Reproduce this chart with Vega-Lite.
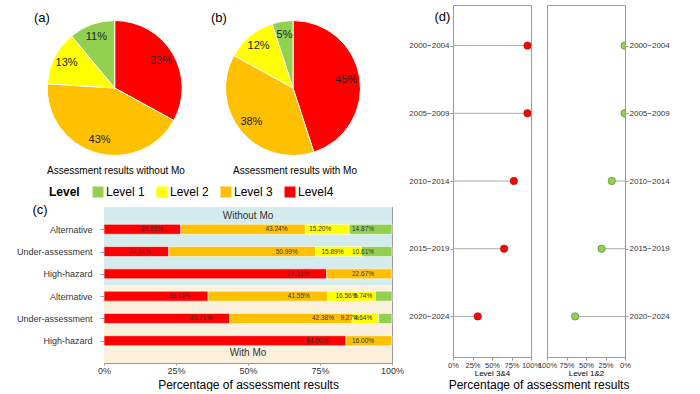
{
  "$schema": "https://vega.github.io/schema/vega-lite/v6.json",
  "padding": {"left": 15, "top": 4, "right": 0, "bottom": 0},
  "config": {
    "font": "Liberation Sans",
    "view": {"stroke": null},
    "axis": {"labelColor": "#333", "titleColor": "#000", "titleFontWeight": "normal", "domainColor": "#999", "tickColor": "#999", "grid": false},
    "title": {"fontWeight": "normal", "color": "#000"}
  },
  "spacing": 3,
  "hconcat": [
    {
      "spacing": 26,
      "vconcat": [
        {
          "spacing": 26,
          "hconcat": [
            {
              "title": {"text": "Assessment results without Mo", "orient": "bottom", "anchor": "middle", "frame": "group", "fontSize": 10, "offset": -5, "dx": 12},
              "vconcat": [
                {
                  "title": {"text": "(a)", "anchor": "start", "frame": "group", "fontSize": 13, "offset": -20, "dx": -70},
                  "width": 21.4, "height": 166,
                  "data": {"values": [
                    {"level": "Level4", "pct": 0.33},
                    {"level": "Level 3", "pct": 0.43},
                    {"level": "Level 2", "pct": 0.13},
                    {"level": "Level 1", "pct": 0.11}
                  ]},
                  "encoding": {
                    "theta": {"field": "pct", "type": "quantitative", "stack": true},
                    "order": {"field": "level", "sort": "descending"}
                  },
                  "layer": [
                    {"mark": {"type": "arc", "outerRadius": 67.5, "stroke": "white", "strokeWidth": 1},
                     "encoding": {"color": {"field": "level", "type": "nominal", "title": "Level", "scale": {"domain": ["Level 1", "Level 2", "Level 3", "Level4"], "range": ["#92D050", "#FFFF00", "#FFC000", "#FF0000"]},
                       "legend": {"orient": "none", "legendX": -55, "legendY": 181, "direction": "horizontal", "titleOrient": "left", "titleFontSize": 12, "titleFontWeight": "bold", "titleColor": "#000", "labelFontSize": 12, "labelColor": "#000", "symbolType": "square", "symbolSize": 121, "symbolStrokeWidth": 0, "symbolOpacity": 1, "columnPadding": 11, "titlePadding": 12, "labelOffset": 2, "padding": 0}}}},
                    {"mark": {"type": "text", "radius": 54, "fontSize": 11, "color": "#222"},
                     "encoding": {"detail": {"field": "level", "type": "nominal"}, "text": {"field": "pct", "type": "quantitative", "format": ".0%"}}}
                  ]
                }
              ]
            },
            {
              "title": {"text": "Assessment results with Mo", "orient": "bottom", "anchor": "middle", "frame": "group", "fontSize": 10, "offset": -5, "dx": 84},
              "vconcat": [
                {
                  "title": {"text": "(b)", "anchor": "start", "frame": "group", "fontSize": 13, "offset": -20, "dx": 0},
                  "width": 164, "height": 166,
                  "data": {"values": [
                    {"level": "Level4", "pct": 0.45},
                    {"level": "Level 3", "pct": 0.38},
                    {"level": "Level 2", "pct": 0.12},
                    {"level": "Level 1", "pct": 0.05}
                  ]},
                  "encoding": {
                    "theta": {"field": "pct", "type": "quantitative", "stack": true},
                    "order": {"field": "level", "sort": "descending"}
                  },
                  "layer": [
                    {"mark": {"type": "arc", "outerRadius": 67.5, "stroke": "white", "strokeWidth": 1},
                     "encoding": {"color": {"field": "level", "type": "nominal", "title": "Level", "scale": {"domain": ["Level 1", "Level 2", "Level 3", "Level4"], "range": ["#92D050", "#FFFF00", "#FFC000", "#FF0000"]},
                       "legend": {"orient": "none", "legendX": -55, "legendY": 181, "direction": "horizontal", "titleOrient": "left", "titleFontSize": 12, "titleFontWeight": "bold", "titleColor": "#000", "labelFontSize": 12, "labelColor": "#000", "symbolType": "square", "symbolSize": 121, "symbolStrokeWidth": 0, "symbolOpacity": 1, "columnPadding": 11, "titlePadding": 12, "labelOffset": 2, "padding": 0}}}},
                    {"mark": {"type": "text", "radius": 54, "fontSize": 11, "color": "#222"},
                     "encoding": {"detail": {"field": "level", "type": "nominal"}, "text": {"field": "pct", "type": "quantitative", "format": ".0%"}}}
                  ]
                }
              ]
            }
          ]
        },
        {
          "width": 288, "height": 156,
          "view": {"stroke": "#999"},
          "encoding": {
            "y": {"field": "row", "type": "nominal",
                  "scale": {"type": "point", "padding": 1, "domain": ["Without Mo|Alternative", "Without Mo|Under-assessment", "Without Mo|High-hazard", "With Mo|Alternative", "With Mo|Under-assessment", "With Mo|High-hazard"]},
                  "axis": {"title": "(c)", "labelExpr": "split(datum.label, '|')[1]", "labelFontSize": 9, "tickSize": 4, "labelPadding": 8, "domain": false, "titleAngle": 0, "titleFontSize": 13, "titleX": -72, "titleY": -4, "titleAlign": "left", "titleBaseline": "top"}}
          },
          "layer": [
            {
              "data": {"values": [{"row": "Without Mo|Alternative", "row2": "Without Mo|High-hazard"}]},
              "mark": {"type": "rect", "color": "#d5ecef", "yOffset": -22.3, "y2Offset": 11.15},
              "encoding": {
                "x": {"datum": 0, "type": "quantitative", "scale": {"domain": [0, 1]}, "axis": {"format": "%", "values": [0, 0.25, 0.5, 0.75, 1], "title": "Percentage of assessment results", "titleFontSize": 12, "labelFontSize": 9, "tickSize": 2, "labelPadding": 1, "domain": false, "labelFlush": false, "titlePadding": 4}},
                "x2": {"datum": 1},
                "y2": {"field": "row2"}
              }
            },
            {
              "data": {"values": [{"row": "With Mo|Alternative", "row2": "With Mo|High-hazard"}]},
              "mark": {"type": "rect", "color": "#fbf0dc", "yOffset": -11.15, "y2Offset": 22.3},
              "encoding": {
                "x": {"datum": 0, "type": "quantitative", "scale": {"domain": [0, 1]}, "axis": {"format": "%", "values": [0, 0.25, 0.5, 0.75, 1], "title": "Percentage of assessment results", "titleFontSize": 12, "labelFontSize": 9, "tickSize": 2, "labelPadding": 1, "domain": false, "labelFlush": false, "titlePadding": 4}},
                "x2": {"datum": 1},
                "y2": {"field": "row2"}
              }
            },
            {
              "data": {"values": [
                {"row": "Without Mo|Alternative", "level": "Level4", "pct": 0.2669},
                {"row": "Without Mo|Alternative", "level": "Level 3", "pct": 0.4324},
                {"row": "Without Mo|Alternative", "level": "Level 2", "pct": 0.1520},
                {"row": "Without Mo|Alternative", "level": "Level 1", "pct": 0.1487},
                {"row": "Without Mo|Under-assessment", "level": "Level4", "pct": 0.2251},
                {"row": "Without Mo|Under-assessment", "level": "Level 3", "pct": 0.5099},
                {"row": "Without Mo|Under-assessment", "level": "Level 2", "pct": 0.1589},
                {"row": "Without Mo|Under-assessment", "level": "Level 1", "pct": 0.1061},
                {"row": "Without Mo|High-hazard", "level": "Level4", "pct": 0.7733},
                {"row": "Without Mo|High-hazard", "level": "Level 3", "pct": 0.2267},
                {"row": "With Mo|Alternative", "level": "Level4", "pct": 0.3615},
                {"row": "With Mo|Alternative", "level": "Level 3", "pct": 0.4155},
                {"row": "With Mo|Alternative", "level": "Level 2", "pct": 0.1656},
                {"row": "With Mo|Alternative", "level": "Level 1", "pct": 0.0574},
                {"row": "With Mo|Under-assessment", "level": "Level4", "pct": 0.4371},
                {"row": "With Mo|Under-assessment", "level": "Level 3", "pct": 0.4238},
                {"row": "With Mo|Under-assessment", "level": "Level 2", "pct": 0.0927},
                {"row": "With Mo|Under-assessment", "level": "Level 1", "pct": 0.0464},
                {"row": "With Mo|High-hazard", "level": "Level4", "pct": 0.84},
                {"row": "With Mo|High-hazard", "level": "Level 3", "pct": 0.16}
              ]},
              "transform": [{"stack": "pct", "groupby": ["row"], "sort": [{"field": "level", "order": "descending"}], "as": ["x0", "x1"]}],
              "layer": [
                {
                  "mark": {"type": "bar", "size": 10, "stroke": "white", "strokeWidth": 0.6},
                  "encoding": {
                    "x": {"field": "x0", "type": "quantitative", "scale": {"domain": [0, 1]}, "axis": {"format": "%", "values": [0, 0.25, 0.5, 0.75, 1], "title": "Percentage of assessment results", "titleFontSize": 12, "labelFontSize": 9, "tickSize": 2, "labelPadding": 1, "domain": false, "labelFlush": false, "titlePadding": 4}},
                    "x2": {"field": "x1"},
                    "color": {"field": "level", "type": "nominal", "title": "Level", "scale": {"domain": ["Level 1", "Level 2", "Level 3", "Level4"], "range": ["#92D050", "#FFFF00", "#FFC000", "#FF0000"]},
                      "legend": {"orient": "none", "legendX": -55, "legendY": 181, "direction": "horizontal", "titleOrient": "left", "titleFontSize": 12, "titleFontWeight": "bold", "titleColor": "#000", "labelFontSize": 12, "labelColor": "#000", "symbolType": "square", "symbolSize": 121, "symbolStrokeWidth": 0, "symbolOpacity": 1, "columnPadding": 11, "titlePadding": 12, "labelOffset": 2, "padding": 0}}
                  }
                },
                {
                  "mark": {"type": "text", "fontSize": 6.5, "dx": -29, "color": "#333"},
                  "encoding": {
                    "x": {"field": "x1", "type": "quantitative"},
                    "text": {"field": "pct", "type": "quantitative", "format": ".2%"}
                  }
                }
              ]
            },
            {
              "data": {"values": [{"row": "Without Mo|Alternative", "txt": "Without Mo"}]},
              "mark": {"type": "text", "dy": -13, "fontSize": 10, "color": "#333"},
              "encoding": {"x": {"datum": 0.5, "type": "quantitative"}, "text": {"field": "txt", "type": "nominal"}}
            },
            {
              "data": {"values": [{"row": "With Mo|High-hazard", "txt": "With Mo"}]},
              "mark": {"type": "text", "dy": 12, "fontSize": 10, "color": "#333"},
              "encoding": {"x": {"datum": 0.5, "type": "quantitative"}, "text": {"field": "txt", "type": "nominal"}}
            }
          ]
        }
      ]
    },
    {
      "title": {"text": "Percentage of assessment results", "orient": "bottom", "anchor": "middle", "fontSize": 12, "offset": 2},
      "bounds": "flush",
      "spacing": 16,
      "hconcat": [
        {
          "width": 78, "height": 352,
          "view": {"stroke": "#999"},
          "data": {"values": [
            {"period": "2000−2004", "v": 0.955},
            {"period": "2005−2009", "v": 0.955},
            {"period": "2010−2014", "v": 0.78},
            {"period": "2015−2019", "v": 0.655},
            {"period": "2020−2024", "v": 0.317}
          ]},
          "encoding": {
            "y": {"field": "period", "type": "nominal", "sort": null, "scale": {"type": "point", "padding": 0.6},
                  "axis": {"title": "(d)", "titleAngle": 0, "titleFontSize": 13, "titleX": -19, "titleY": 5, "titleAlign": "left", "titleBaseline": "top", "labelFontSize": 8, "tickSize": 3, "labelPadding": 1, "domain": false}}
          },
          "layer": [
            {
              "mark": {"type": "bar", "size": 1, "color": "#aaa"},
              "encoding": {
                "x": {"field": "v", "type": "quantitative", "scale": {"domain": [0, 1]}, "axis": {"format": "%", "values": [0, 0.25, 0.5, 0.75, 1], "title": "Level 3&4", "labelFontSize": 7.5, "titleFontSize": 8, "tickSize": 3, "labelOverlap": false, "labelFlush": false, "domain": false, "titlePadding": 1, "labelPadding": 1}},
                "x2": {"datum": 0}
              }
            },
            {
              "mark": {"type": "circle", "size": 55, "color": "#FF0000", "opacity": 1, "stroke": "#9b1010", "strokeWidth": 0.6, "clip": true},
              "encoding": {"x": {"field": "v", "type": "quantitative", "scale": {"domain": [0, 1]}, "axis": {"format": "%", "values": [0, 0.25, 0.5, 0.75, 1], "title": "Level 3&4", "labelFontSize": 7.5, "titleFontSize": 8, "tickSize": 3, "labelOverlap": false, "labelFlush": false, "domain": false, "titlePadding": 1, "labelPadding": 1}}}
            }
          ]
        },
        {
          "width": 78, "height": 352,
          "view": {"stroke": "#999"},
          "data": {"values": [
            {"period": "2000−2004", "v": 0.005},
            {"period": "2005−2009", "v": 0.005},
            {"period": "2010−2014", "v": 0.17},
            {"period": "2015−2019", "v": 0.30},
            {"period": "2020−2024", "v": 0.64}
          ]},
          "encoding": {
            "y": {"field": "period", "type": "nominal", "sort": null, "scale": {"type": "point", "padding": 0.6},
                  "axis": {"orient": "right", "title": null, "labelFontSize": 8, "tickSize": 3, "labelPadding": 1, "domain": false}}
          },
          "layer": [
            {
              "mark": {"type": "bar", "size": 1, "color": "#aaa"},
              "encoding": {
                "x": {"field": "v", "type": "quantitative", "scale": {"domain": [0, 1], "reverse": true}, "axis": {"format": "%", "values": [0, 0.25, 0.5, 0.75, 1], "title": "Level 1&2", "labelFontSize": 7.5, "titleFontSize": 8, "tickSize": 3, "labelOverlap": false, "labelFlush": false, "domain": false, "titlePadding": 1, "labelPadding": 1}},
                "x2": {"datum": 0}
              }
            },
            {
              "mark": {"type": "circle", "size": 55, "color": "#92D050", "opacity": 1, "stroke": "#4f7a25", "strokeWidth": 0.6, "clip": true},
              "encoding": {"x": {"field": "v", "type": "quantitative", "scale": {"domain": [0, 1], "reverse": true}, "axis": {"format": "%", "values": [0, 0.25, 0.5, 0.75, 1], "title": "Level 1&2", "labelFontSize": 7.5, "titleFontSize": 8, "tickSize": 3, "labelOverlap": false, "labelFlush": false, "domain": false, "titlePadding": 1, "labelPadding": 1}}}
            }
          ]
        }
      ]
    }
  ]
}
